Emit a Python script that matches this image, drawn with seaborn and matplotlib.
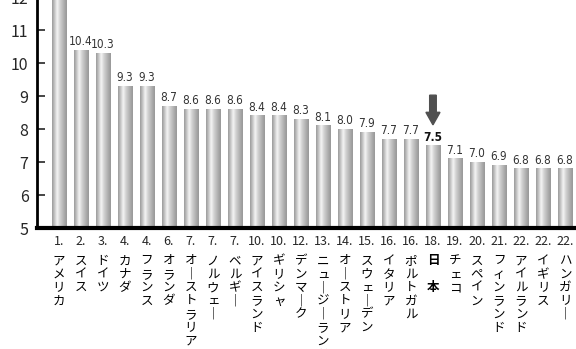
import numpy as np
import pandas as pd
import matplotlib
matplotlib.use('Agg')
import matplotlib.pyplot as plt
import seaborn as sns
from matplotlib.colors import LinearSegmentedColormap

# data
ranks = ['1.', '2.', '3.', '4.', '4.', '6.', '7.', '7.', '7.', '10.', '10.', '12.',
         '13.', '14.', '15.', '16.', '16.', '18.', '19.', '20.', '21.', '22.', '22.', '22.']
countries = ['アメリカ', 'スイス', 'ドイツ', 'カナダ', 'フランス', 'オランダ', 'オーストラリア',
             'ノルウェー', 'ベルギー', 'アイスランド', 'ギリシャ', 'デンマーク', 'ニュージーランド',
             'オーストリア', 'スウェーデン', 'イタリア', 'ポルトガル', '日 本', 'チェコ', 'スペイン',
             'フィンランド', 'アイルランド', 'イギリス', 'ハンガリー']
values = [13.0, 10.4, 10.3, 9.3, 9.3, 8.7, 8.6, 8.6, 8.6, 8.4, 8.4, 8.3,
          8.1, 8.0, 7.9, 7.7, 7.7, 7.5, 7.1, 7.0, 6.9, 6.8, 6.8, 6.8]
highlight = '日 本'

sns.set_style('white')
plt.rcParams['font.family'] = ['Noto Sans CJK JP', 'DejaVu Sans']

df = pd.DataFrame({'pos': [str(i) for i in range(len(values))], 'value': values})

fig = plt.figure(figsize=(5.76, 3.49), dpi=100)
ax = fig.add_axes([0.064, 0.3467, 0.936, 0.6705])

sns.barplot(data=df, x='pos', y='value', width=0.64, color='#b0b0b0',
            ax=ax, saturation=1)
ymin, ymax = 5, 12.1

# cylindrical shading on each bar
cmap = LinearSegmentedColormap.from_list('cyl', [(0, '#9c9c9c'), (0.12, '#b8b8b8'), (0.35, '#f4f4f4'),
                                                  (0.55, '#d0d0d0'), (0.85, '#a8a8a8'), (1, '#989898')])
grad = np.linspace(0, 1, 64).reshape(1, -1)
for p in ax.patches:
    x0, w, h = p.get_x(), p.get_width(), p.get_height()
    top = min(h, ymax)
    ax.imshow(grad, cmap=cmap, aspect='auto', extent=(x0, x0 + w, ymin, top),
              origin='lower', zorder=2, interpolation='bilinear')
    p.set_visible(False)
ax.set_xlim(-1, 23.5)
ax.set_ylim(ymin, ymax)

# value labels
for i, (v, name) in enumerate(zip(values, countries)):
    bold = name == highlight
    ax.annotate(f'{v:.1f}', xy=(i, v), xytext=(0, 1.5), textcoords='offset points',
                ha='center', va='bottom', fontsize=8.5, color='#111' if bold else '#333',
                fontweight='bold' if bold else 'normal', fontstretch='condensed',
                family=['Liberation Sans Narrow', 'DejaVu Sans'])

# arrow above Japan
j = countries.index(highlight)
ax.arrow(j, 9.03, 0, -0.9, width=0.3, head_width=0.64, head_length=0.38,
         length_includes_head=True, color='#505050', zorder=4)

# axes styling
for s in ['top', 'right']:
    ax.spines[s].set_visible(False)
ax.spines['left'].set_linewidth(2)
ax.spines['left'].set_color('black')
ax.spines['bottom'].set_linewidth(3)
ax.spines['bottom'].set_color('black')
ax.set_yticks(range(5, 13))
ax.tick_params(axis='y', direction='in', length=6, width=1.2, labelsize=11.5, pad=6, left=True)
ax.set_xticks(range(len(ranks)))
ax.set_xticklabels(ranks, fontsize=9)
ax.tick_params(axis='x', length=0, pad=5)
ax.set_xlabel('')
ax.set_ylabel('')

# vertical country names under the ranks
step = 9.6
for i, name in enumerate(countries):
    bold = name == highlight
    for k, ch in enumerate(name):
        if ch == ' ':
            continue
        if ch == 'ー':
            ch = '｜'
        ax.annotate(ch, xy=(i, 0), xycoords=('data', 'axes fraction'),
                    xytext=(0, -19 - k * step), textcoords='offset points',
                    ha='center', va='top', fontsize=9, color='black',
                    fontweight='bold' if (bold or ch == '｜') else 'normal',
                    annotation_clip=False)

fig.savefig('out.png', dpi=100)
